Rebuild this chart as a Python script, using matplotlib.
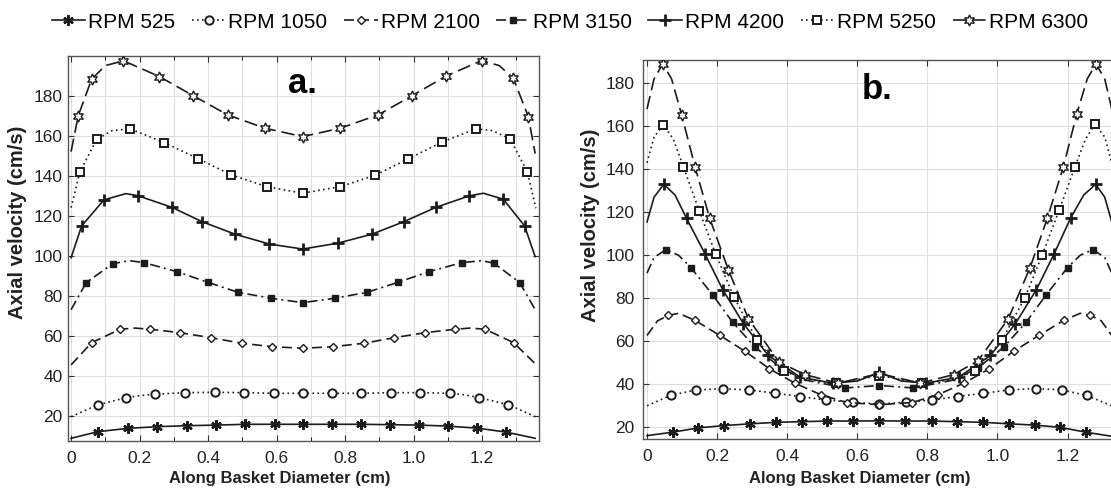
import matplotlib
matplotlib.use("Agg")
import matplotlib.pyplot as plt
from matplotlib.ticker import MultipleLocator

RPM = [525, 1050, 2100, 3150, 4200, 5250, 6300]

# panel a (x in cm, y in cm/s)
A_X_525 = [0, 0.078, 0.167, 0.21, 0.252, 0.338, 0.424, 0.509, 0.594, 0.676, 0.761, 0.847, 0.932, 1.015, 1.1, 1.14, 1.185, 1.27, 1.355]
A_Y_525 = [8.7, 12, 13.7, 14.1, 14.5, 15, 15.3, 15.7, 15.7, 15.7, 15.7, 15.7, 15.5, 15.3, 14.8, 14.3, 13.8, 11.8, 8.7]
A_X_1050 = [0, 0.078, 0.161, 0.2, 0.245, 0.333, 0.42, 0.506, 0.592, 0.676, 0.761, 0.847, 0.935, 1.02, 1.105, 1.15, 1.192, 1.277, 1.355]
A_Y_1050 = [19.5, 25.4, 29, 30, 30.7, 31.5, 31.7, 31.5, 31.2, 31.2, 31.2, 31.2, 31.5, 31.5, 31.2, 30.4, 29, 25.5, 19.5]
A_X_2100 = [0, 0.06, 0.143, 0.187, 0.231, 0.318, 0.408, 0.498, 0.586, 0.676, 0.766, 0.855, 0.944, 1.034, 1.121, 1.165, 1.209, 1.292, 1.355]
A_Y_2100 = [45.4, 56.5, 63.2, 63.8, 63.2, 61.5, 59, 56.2, 54.5, 53.7, 54.5, 56.2, 59, 61.5, 63.2, 63.8, 63.2, 56.5, 46]
A_X_3150 = [0, 0.044, 0.122, 0.17, 0.213, 0.309, 0.399, 0.487, 0.584, 0.676, 0.77, 0.865, 0.955, 1.045, 1.141, 1.2, 1.235, 1.31, 1.355]
A_Y_3150 = [73, 86.5, 96, 97.5, 96.5, 92, 86.7, 81.7, 78.7, 76.5, 78.7, 81.7, 86.7, 92, 96.5, 97.5, 96.2, 86.5, 73]
A_X_4200 = [0, 0.031, 0.096, 0.16, 0.194, 0.294, 0.382, 0.479, 0.579, 0.676, 0.778, 0.878, 0.972, 1.066, 1.163, 1.204, 1.262, 1.324, 1.355]
A_Y_4200 = [99, 114.9, 127.9, 131, 130, 124.2, 117, 110.7, 105.8, 103.3, 106.2, 110.7, 117, 124.2, 129.9, 131.2, 128.2, 114.9, 99.5]
A_X_5250 = [0, 0.026, 0.075, 0.12, 0.172, 0.272, 0.372, 0.467, 0.571, 0.676, 0.786, 0.888, 0.985, 1.082, 1.182, 1.23, 1.282, 1.332, 1.357]
A_Y_5250 = [124, 142, 158.2, 162.5, 163.4, 156.5, 148.4, 140.4, 134.5, 131.2, 134.5, 140.2, 148.4, 156.7, 163.4, 162.5, 158.3, 142, 123.7]
A_X_6300 = [0, 0.021, 0.06, 0.10, 0.153, 0.258, 0.357, 0.457, 0.566, 0.676, 0.786, 0.897, 0.995, 1.095, 1.199, 1.25, 1.291, 1.335, 1.355]
A_Y_6300 = [152, 170, 188.2, 195, 197.4, 189.5, 179.9, 170.4, 163.7, 159.5, 163.7, 170.4, 179.9, 189.8, 197.5, 195, 188.7, 169.5, 151]
# which points carry a marker (the rest only shape the curve)
A_MK = [1, 2, 4, 5, 6, 7, 8, 9, 10, 11, 12, 13, 14, 16, 17]

# panel b
B_X_525 = [0, 0.073, 0.146, 0.22, 0.294, 0.368, 0.442, 0.514, 0.589, 0.663, 0.737, 0.812, 0.885, 0.96, 1.034, 1.106, 1.178, 1.252, 1.326]
B_Y_525 = [16.1, 17.7, 19.7, 20.8, 21.6, 22.3, 22.6, 22.9, 22.9, 23, 22.9, 22.9, 22.6, 22.3, 21.6, 21, 20, 17.7, 15.8]
B_MK_525 = list(range(1, 18))
B_X_1050 = [0, 0.067, 0.14, 0.216, 0.292, 0.366, 0.437, 0.511, 0.587, 0.663, 0.738, 0.812, 0.886, 0.96, 1.034, 1.11, 1.183, 1.254, 1.326]
B_Y_1050 = [30, 34.8, 37.4, 37.9, 37.4, 35.8, 34.3, 32.7, 31.6, 30.9, 31.6, 32.7, 34.3, 35.8, 37.4, 38, 37.4, 34.8, 30]
B_MK_1050 = list(range(1, 18))
B_X_2100 = [0, 0.03, 0.061, 0.09, 0.137, 0.208, 0.28, 0.349, 0.422, 0.495, 0.57, 0.663, 0.756, 0.831, 0.904, 0.977, 1.046, 1.118, 1.189, 1.236, 1.265, 1.296, 1.326]
B_Y_2100 = [62.7, 69.5, 72, 73, 69.7, 62.7, 55.3, 47.2, 40.5, 35.2, 31.5, 30.5, 31.5, 35.2, 40.5, 47.2, 55.3, 62.7, 69.7, 73, 72, 69.5, 62.7]
B_MK_2100 = [2, 4, 5, 6, 7, 8, 9, 10, 11, 12, 13, 14, 15, 16, 17, 18, 20]
B_X_3150 = [0, 0.02, 0.054, 0.09, 0.125, 0.188, 0.244, 0.308, 0.381, 0.45, 0.565, 0.663, 0.76, 0.876, 0.945, 1.018, 1.082, 1.138, 1.2, 1.236, 1.272, 1.306, 1.326]
B_Y_3150 = [91.7, 99, 102.6, 100, 94.3, 81.4, 68.9, 57.3, 47.7, 42, 38.3, 39.4, 38.3, 42, 47.7, 57.3, 68.9, 81.4, 94.3, 100, 102.6, 99, 91.7]
B_MK_3150 = [2, 4, 5, 6, 7, 8, 10, 11, 12, 14, 15, 16, 17, 18, 20]
B_X_4200 = [0, 0.02, 0.048, 0.08, 0.113, 0.165, 0.216, 0.275, 0.346, 0.437, 0.53, 0.6, 0.663, 0.726, 0.796, 0.889, 0.98, 1.051, 1.111, 1.162, 1.209, 1.246, 1.28, 1.306, 1.326]
B_Y_4200 = [115.5, 127, 133, 128, 117.1, 100.8, 84, 68.2, 53.4, 43.3, 40.5, 41.5, 45.5, 41.5, 40.5, 43.3, 53.4, 68.2, 84, 100.8, 117.4, 128, 133, 127, 115.5]
B_MK_4200 = [2, 4, 5, 6, 7, 8, 9, 10, 12, 14, 15, 16, 17, 18, 19, 20, 22]
B_X_5250 = [0, 0.02, 0.047, 0.075, 0.104, 0.149, 0.196, 0.248, 0.313, 0.39, 0.46, 0.54, 0.663, 0.786, 0.866, 0.936, 1.013, 1.078, 1.128, 1.176, 1.221, 1.251, 1.278, 1.306, 1.326]
B_Y_5250 = [143, 155, 160.6, 154, 141.1, 120.6, 100.5, 80.6, 60.7, 46, 42, 40.5, 44, 40.5, 42, 46, 60.7, 80.1, 100.3, 121, 141.1, 154, 160.9, 155, 143]
B_MK_5250 = [2, 4, 5, 6, 7, 8, 9, 11, 12, 13, 15, 16, 17, 18, 19, 20, 22]
B_X_6300 = [0, 0.02, 0.045, 0.07, 0.099, 0.137, 0.179, 0.232, 0.289, 0.377, 0.45, 0.545, 0.663, 0.78, 0.875, 0.945, 1.031, 1.093, 1.142, 1.188, 1.226, 1.256, 1.281, 1.306, 1.326]
B_Y_6300 = [168, 182, 189, 182, 165.2, 141.1, 117.1, 93.3, 70.5, 50.3, 44.5, 40.5, 45, 40.5, 44.5, 51, 70.5, 94.3, 117.1, 141.1, 165.6, 182, 189, 182, 168]
B_MK_6300 = [2, 4, 5, 6, 7, 8, 9, 10, 11, 12, 13, 14, 15, 16, 17, 18, 19, 20, 22]

INK = "#1c1c1c"
STYLES = {
    525: dict(ls="-", marker=(6, 2, 0), ms=7.5, mew=1.6, mfc=INK),
    1050: dict(ls=(0, (1, 2)), marker="o", ms=6, mew=1.4, mfc="white"),
    2100: dict(ls=(0, (6, 3)), marker="D", ms=4.5, mew=1.0, mfc="white"),
    3150: dict(ls=(0, (6, 2.5, 1.2, 2.5)), marker="s", ms=4.2, mew=1.0, mfc=INK),
    4200: dict(ls="-", marker="+", ms=8, mew=2.0, mfc=INK),
    5250: dict(ls=(0, (1, 2)), marker="s", ms=6, mew=1.4, mfc="white"),
    6300: dict(ls=(0, (8, 3.5)), marker=(6, 1, 0), ms=8, mew=1.0, mfc="white"),
}


def draw(ax, xs, ys, marks):
    lines = []
    for rpm, x, y, mk in zip(RPM, xs, ys, marks):
        st = STYLES[rpm]
        (ln,) = ax.plot(x, y, color=INK, lw=1.2, ls=st["ls"], marker=st["marker"],
                        ms=st["ms"], mew=st["mew"], mec=INK, mfc=st["mfc"],
                        markevery=mk, label=f"RPM {rpm}", zorder=3)
        lines.append(ln)
    ax.set_yticks(range(20, 181, 20))
    ax.set_xticks([0, 0.2, 0.4, 0.6, 0.8, 1.0, 1.2])
    ax.set_xticklabels(["0", "0.2", "0.4", "0.6", "0.8", "1.0", "1.2"])
    ax.tick_params(direction="in", top=True, right=True, length=4, width=0.8,
                   labelsize=12.5, colors="#333333", labelcolor="#222222")
    ax.tick_params(axis="x", pad=7)
    ax.grid(True, which="both", color="#dedede", lw=0.8, zorder=0)
    for sp in ax.spines.values():
        sp.set_color("#555555")
        sp.set_linewidth(1.0)
    return lines


plt.rcParams["font.family"] = ["Liberation Sans", "DejaVu Sans"]
fig = plt.figure(figsize=(11.11, 4.95), dpi=100)

ax_a = fig.add_axes([0.0609, 0.1091, 0.4245, 0.7778])
lines = draw(ax_a,
             [A_X_525, A_X_1050, A_X_2100, A_X_3150, A_X_4200, A_X_5250, A_X_6300],
             [A_Y_525, A_Y_1050, A_Y_2100, A_Y_3150, A_Y_4200, A_Y_5250, A_Y_6300],
             [A_MK] * 7)
ax_a.set_xlim(-0.01, 1.367)
ax_a.set_ylim(7.35, 199.8)
ax_a.xaxis.set_minor_locator(MultipleLocator(0.1))
ax_a.tick_params(which="minor", direction="in", top=True, length=3)

ax_b = fig.add_axes([0.5785, 0.1125, 0.4329, 0.7663])
draw(ax_b,
     [B_X_525, B_X_1050, B_X_2100, B_X_3150, B_X_4200, B_X_5250, B_X_6300],
     [B_Y_525, B_Y_1050, B_Y_2100, B_Y_3150, B_Y_4200, B_Y_5250, B_Y_6300],
     [B_MK_525, B_MK_1050, B_MK_2100, B_MK_3150, B_MK_4200, B_MK_5250, B_MK_6300])
ax_b.set_xlim(-0.0123, 1.36)
ax_b.set_ylim(14.4, 190.8)
ax_b.tick_params(axis="y", pad=6)

# axis titles placed like in the source figure
for xc in (280, 860):
    fig.text(xc / 1111, 1 - 478 / 495, "Along Basket Diameter (cm)", ha="center",
             va="center", fontsize=12, fontweight="bold", color="#222222")
for xc, yc in ((18, 222), (590, 225)):
    fig.text(xc / 1111, 1 - yc / 495, "Axial velocity (cm/s)", ha="center",
             va="center", rotation=90, fontsize=14.5, fontweight="bold", color="#222222")

fig.text(288 / 1111, 1 - 93 / 495, "a.", fontsize=25, fontweight="bold", va="baseline")
fig.text(862 / 1111, 1 - 99 / 495, "b.", fontsize=25, fontweight="bold", va="baseline")

fig.legend(lines, [ln.get_label() for ln in lines], loc="center",
           bbox_to_anchor=(0.513, 1 - 22 / 495), ncol=7, frameon=False,
           handlelength=1.6, handletextpad=0.15, columnspacing=0.8,
           prop=dict(family="Liberation Sans", size=15))

fig.savefig("out.png", dpi=100, facecolor="white")
